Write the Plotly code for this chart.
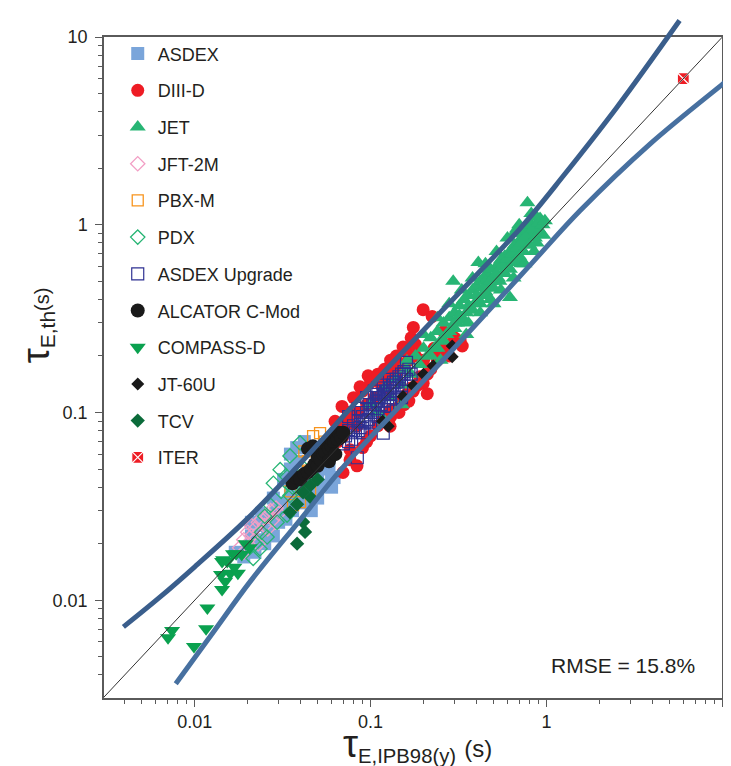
import plotly.graph_objects as go

# ---------------- data ----------------
asdex_x = [0.017, 0.019, 0.02, 0.021, 0.021, 0.022, 0.023, 0.024, 0.024, 0.025, 0.026, 0.027, 0.028, 0.028,
           0.029, 0.03, 0.031, 0.032, 0.032, 0.033, 0.034, 0.035, 0.035, 0.035, 0.036, 0.037, 0.038, 0.038,
           0.038, 0.04, 0.041, 0.042, 0.042, 0.044, 0.045, 0.046, 0.047, 0.048, 0.05, 0.05, 0.052, 0.054,
           0.055, 0.058, 0.06, 0.06, 0.062]
asdex_y = [0.018, 0.017, 0.019, 0.022, 0.026, 0.018, 0.021, 0.025, 0.029, 0.02, 0.023, 0.027, 0.022, 0.035,
           0.03, 0.026, 0.028, 0.033, 0.044, 0.027, 0.031, 0.036, 0.05, 0.06, 0.03, 0.04, 0.034, 0.055,
           0.065, 0.038, 0.045, 0.033, 0.07, 0.042, 0.048, 0.03, 0.039, 0.05, 0.045, 0.035, 0.052, 0.041,
           0.058, 0.05, 0.045, 0.04, 0.045]

diiid_x = [0.199, 0.224, 0.175, 0.153, 0.0968, 0.0871, 0.0688, 0.0628, 0.0837, 0.129, 0.259, 0.323, 0.332,
           0.199, 0.21, 0.0764, 0.0697, 0.0837, 0.0764, 0.118, 0.129, 0.08, 0.09, 0.1, 0.11, 0.12, 0.13,
           0.14, 0.16, 0.17, 0.18, 0.1, 0.11, 0.12, 0.14, 0.15, 0.16, 0.17, 0.19, 0.22, 0.24, 0.28, 0.3,
           0.27, 0.09, 0.095, 0.075, 0.07, 0.065, 0.14, 0.12, 0.2, 0.23, 0.26,
           0.085, 0.095, 0.105, 0.115, 0.125, 0.135, 0.15, 0.165, 0.18, 0.13, 0.145, 0.155, 0.165, 0.175,
           0.185, 0.21, 0.24, 0.075, 0.072]
diiid_y = [0.353, 0.325, 0.284, 0.223, 0.157, 0.137, 0.1077, 0.0897, 0.0845, 0.0845, 0.212, 0.24, 0.226,
           0.143, 0.126, 0.056, 0.0479, 0.052, 0.0633, 0.0955, 0.1026, 0.12, 0.13, 0.145, 0.16, 0.17, 0.19,
           0.2, 0.21, 0.25, 0.23, 0.075, 0.085, 0.09, 0.105, 0.115, 0.125, 0.135, 0.155, 0.17, 0.19, 0.2,
           0.25, 0.23, 0.065, 0.07, 0.09, 0.075, 0.07, 0.16, 0.135, 0.19, 0.22, 0.27,
           0.1, 0.11, 0.12, 0.14, 0.15, 0.17, 0.18, 0.19, 0.2, 0.095, 0.1, 0.11, 0.115, 0.13,
           0.14, 0.16, 0.2, 0.1, 0.085]

jet_x = [0.1, 0.11, 0.12, 0.13, 0.14, 0.15, 0.16, 0.17, 0.18, 0.19, 0.2, 0.21, 0.22, 0.23, 0.24, 0.25,
         0.26, 0.27, 0.28, 0.29, 0.3, 0.31, 0.32, 0.33, 0.34, 0.35, 0.36, 0.37, 0.38, 0.39, 0.4, 0.41,
         0.42, 0.43, 0.44, 0.45, 0.46, 0.47, 0.48, 0.5, 0.52, 0.53, 0.55, 0.56, 0.58, 0.6, 0.62, 0.64,
         0.66, 0.68, 0.7, 0.72, 0.74, 0.76, 0.78, 0.8, 0.82, 0.85, 0.88, 0.9, 0.93, 0.96, 0.78, 0.92,
         0.41, 0.295, 0.62, 0.5, 0.35, 0.25, 0.15, 0.12, 0.3, 0.45, 0.55, 0.161, 0.66, 0.72,
         0.2, 0.22, 0.24, 0.26, 0.28, 0.3, 0.32, 0.34, 0.36, 0.38, 0.4, 0.42, 0.44, 0.46, 0.48, 0.5,
         0.52, 0.54, 0.56, 0.58, 0.6, 0.62, 0.64, 0.66, 0.68, 0.7, 0.72, 0.74, 0.76, 0.8, 0.84, 0.86,
         0.9, 0.95, 0.98, 0.7, 0.6, 0.52, 0.45, 0.38, 0.33, 0.28, 0.24, 0.55, 0.65, 0.75, 0.85, 0.48,
         0.42, 0.36, 0.68, 0.82, 0.88]
jet_y = [0.11, 0.1, 0.135, 0.12, 0.15, 0.14, 0.17, 0.16, 0.2, 0.18, 0.22, 0.2, 0.25, 0.22, 0.27, 0.24,
         0.3, 0.26, 0.32, 0.28, 0.34, 0.3, 0.37, 0.32, 0.4, 0.34, 0.42, 0.36, 0.45, 0.38, 0.47, 0.4,
         0.5, 0.42, 0.52, 0.44, 0.55, 0.46, 0.58, 0.5, 0.6, 0.52, 0.65, 0.55, 0.68, 0.6, 0.72, 0.63,
         0.78, 0.68, 0.82, 0.72, 0.9, 0.78, 0.95, 0.85, 1.0, 0.92, 1.1, 0.95, 1.05, 0.88, 1.31, 1.08,
         0.63, 0.5, 0.41, 0.38, 0.26, 0.19, 0.11, 0.09, 0.28, 0.5, 0.6, 0.188, 0.9, 0.62,
         0.26, 0.2, 0.22, 0.24, 0.27, 0.3, 0.33, 0.31, 0.37, 0.35, 0.42, 0.38, 0.46, 0.42, 0.5, 0.46,
         0.55, 0.5, 0.6, 0.55, 0.66, 0.58, 0.7, 0.64, 0.75, 0.68, 0.8, 0.72, 0.86, 0.78, 0.95, 0.85,
         1.02, 1.0, 1.05, 1.0, 0.85, 0.72, 0.62, 0.52, 0.45, 0.38, 0.32, 0.45, 0.52, 0.62, 0.72, 0.4,
         0.34, 0.3, 0.95, 1.15, 0.8]

jft_x = [0.018, 0.019, 0.02, 0.02, 0.021, 0.022, 0.022, 0.023, 0.024, 0.024, 0.025, 0.026, 0.026, 0.027,
         0.028, 0.029, 0.03, 0.021, 0.019, 0.023]
jft_y = [0.019, 0.021, 0.02, 0.023, 0.022, 0.024, 0.021, 0.026, 0.023, 0.027, 0.025, 0.028, 0.024, 0.03,
         0.027, 0.031, 0.029, 0.025, 0.018, 0.02]

pbx_x = [0.0471, 0.0516, 0.0397, 0.0453, 0.0453, 0.0362, 0.0408, 0.044, 0.05, 0.035, 0.042, 0.055]
pbx_y = [0.0748, 0.0776, 0.0333, 0.0389, 0.044, 0.0321, 0.049, 0.055, 0.06, 0.038, 0.062, 0.07]

pdx_x = [0.0215, 0.0235, 0.0258, 0.0294, 0.0335, 0.0348, 0.0306, 0.0397, 0.0348, 0.027, 0.031, 0.025,
         0.038, 0.042, 0.028, 0.033, 0.036, 0.024, 0.045, 0.022]
pdx_y = [0.0167, 0.0188, 0.0217, 0.026, 0.0284, 0.0361, 0.0496, 0.0689, 0.0587, 0.032, 0.038, 0.028,
         0.045, 0.05, 0.042, 0.046, 0.04, 0.023, 0.048, 0.02]

aug_x = [0.07, 0.072, 0.075, 0.078, 0.08, 0.082, 0.085, 0.087, 0.09, 0.092, 0.095, 0.097, 0.1, 0.1,
         0.103, 0.105, 0.108, 0.11, 0.112, 0.115, 0.118, 0.12, 0.122, 0.125, 0.128, 0.13, 0.133, 0.136,
         0.14, 0.143, 0.146, 0.15, 0.155, 0.16, 0.165, 0.17, 0.095, 0.085, 0.105, 0.12, 0.13, 0.14,
         0.118, 0.084, 0.15, 0.11, 0.16, 0.075, 0.09,
         0.075, 0.08, 0.085, 0.09, 0.095, 0.1, 0.105, 0.11, 0.115, 0.12, 0.125, 0.13, 0.135, 0.14,
         0.145, 0.15, 0.155, 0.088, 0.098, 0.108, 0.118, 0.128, 0.1, 0.11, 0.125, 0.135]
aug_y = [0.068, 0.075, 0.08, 0.072, 0.085, 0.078, 0.09, 0.083, 0.095, 0.088, 0.1, 0.092, 0.105, 0.097,
         0.11, 0.1, 0.115, 0.105, 0.12, 0.11, 0.125, 0.115, 0.13, 0.12, 0.135, 0.125, 0.14, 0.13,
         0.145, 0.135, 0.15, 0.14, 0.16, 0.15, 0.17, 0.16, 0.12, 0.105, 0.13, 0.1, 0.108, 0.118,
         0.0776, 0.0574, 0.12, 0.135, 0.185, 0.095, 0.078,
         0.07, 0.08, 0.08, 0.09, 0.09, 0.1, 0.11, 0.115, 0.12, 0.125, 0.13, 0.135, 0.145, 0.15,
         0.155, 0.16, 0.165, 0.1, 0.11, 0.125, 0.14, 0.15, 0.088, 0.095, 0.108, 0.118]

cmod_x = [0.036, 0.038, 0.04, 0.042, 0.044, 0.044, 0.046, 0.048, 0.05, 0.05, 0.052, 0.054, 0.055,
          0.056, 0.058, 0.06, 0.06, 0.062, 0.064, 0.065, 0.066, 0.068, 0.07, 0.047, 0.058, 0.063]
cmod_y = [0.042, 0.045, 0.044, 0.047, 0.048, 0.064, 0.05, 0.053, 0.052, 0.058, 0.056, 0.06, 0.062,
          0.068, 0.064, 0.066, 0.072, 0.07, 0.076, 0.072, 0.078, 0.074, 0.078, 0.066, 0.055, 0.06]

compass_x = [0.00705, 0.00743, 0.0099, 0.0116, 0.0118, 0.0143, 0.0149, 0.0141, 0.0159, 0.0176, 0.0143,
             0.0153, 0.0165, 0.0172, 0.0145, 0.0185, 0.0168, 0.0195, 0.0205]
compass_y = [0.0063, 0.0069, 0.00566, 0.00705, 0.0091, 0.0114, 0.0126, 0.0137, 0.0139, 0.0139, 0.0161,
             0.0161, 0.0177, 0.0177, 0.0164, 0.0175, 0.015, 0.02, 0.019]

jt60_x = [0.117, 0.126, 0.153, 0.175, 0.227, 0.291, 0.291, 0.2]
jt60_y = [0.0897, 0.0845, 0.1216, 0.139, 0.177, 0.226, 0.198, 0.16]

tcv_x = [0.0382, 0.0424, 0.0413, 0.0348, 0.0413, 0.0453, 0.0382, 0.05, 0.046]
tcv_y = [0.02, 0.0231, 0.0261, 0.0294, 0.0375, 0.0408, 0.0324, 0.044, 0.035]

iter_x = [6.0]
iter_y = [6.0]

# identity line and the two bounding curves
diag = [0.003, 10.0]
upper_x = [0.00393, 0.00631, 0.01, 0.01995, 0.0398, 0.1, 0.272, 0.708, 1.259, 2.512, 5.715]
upper_y = [0.00721, 0.01035, 0.01507, 0.0272, 0.0535, 0.138, 0.3715, 0.955, 1.841, 4.217, 12.25]
lower_x = [0.0078, 0.01259, 0.02065, 0.0398, 0.0671, 0.1472, 0.3228, 0.8414, 1.556, 3.89, 10.0, 11.22]
lower_y = [0.00359, 0.00665, 0.01256, 0.0268, 0.049, 0.1086, 0.2382, 0.6368, 1.191, 2.7, 5.6, 6.11]

tick_vals = [0.01, 0.1, 1, 10]
tick_text = ["0.01", "0.1", "1", "10"]
minor_vals = [k * 10.0 ** e for e in range(-3, 1) for k in range(2, 10)]

FONT = "Liberation Sans, Arial, sans-serif"
TXT = "#231f20"

series = [
    ("ASDEX", asdex_x, asdex_y, "square", "#7aa5da", 13, None),
    ("DIII-D", diiid_x, diiid_y, "circle", "#ee1c24", 13, None),
    ("JET", jet_x, jet_y, "triangle-up", "#27b574", 14, None),
    ("JFT-2M", jft_x, jft_y, "diamond-open", "#f29fc5", 11, 1.3),
    ("PBX-M", pbx_x, pbx_y, "square-open", "#f7941d", 11, 1.3),
    ("PDX", pdx_x, pdx_y, "diamond-open", "#27b574", 11, 1.3),
    ("ASDEX Upgrade", aug_x, aug_y, "square-open", "#2e3192", 12, 1.2),
    ("ALCATOR C-Mod", cmod_x, cmod_y, "circle", "#1a1a1a", 14, None),
    ("COMPASS-D", compass_x, compass_y, "triangle-down", "#0aa14f", 14, None),
    ("JT-60U", jt60_x, jt60_y, "diamond", "#1a1a1a", 10, None),
    ("TCV", tcv_x, tcv_y, "diamond", "#0b6b3a", 11, None),
]

fig = go.Figure()
for i, (name, xs, ys, sym, col, size, lw) in enumerate(series):
    marker = dict(symbol=sym, color=col, size=size)
    if lw is not None:
        marker["line"] = dict(color=col, width=lw)
    else:
        marker["line"] = dict(width=0)
    fig.add_trace(go.Scatter(x=xs, y=ys, mode="markers", name=name, marker=marker,
                             legendgroup="g%d" % i, xaxis="x", yaxis="y"))

fig.add_trace(go.Scatter(x=iter_x, y=iter_y, mode="markers", name="ITER", legendgroup="g11",
                         marker=dict(symbol="square-x", color="#ee1c24", size=12,
                                     line=dict(color="white", width=1.2))))

fig.add_trace(go.Scatter(x=diag, y=diag, mode="lines", showlegend=False,
                         line=dict(color="#333333", width=1), hoverinfo="skip"))

fig.add_trace(go.Scatter(x=upper_x, y=upper_y, mode="lines", showlegend=False, xaxis="x2", yaxis="y2",
                         line=dict(color="#3a5e8c", width=5, shape="spline"), hoverinfo="skip"))
fig.add_trace(go.Scatter(x=lower_x, y=lower_y, mode="lines", showlegend=False, xaxis="x2", yaxis="y2",
                         line=dict(color="#4770a0", width=5, shape="spline"), hoverinfo="skip"))

axis_common = dict(
    type="log", showgrid=False, zeroline=False, showline=True, mirror=True,
    linecolor="#5a5a5a", linewidth=1.5, ticks="outside", ticklen=7, tickwidth=1.3, tickcolor="#5a5a5a",
    tickmode="array", tickvals=tick_vals, ticktext=tick_text,
    tickfont=dict(family=FONT, size=18, color=TXT),
    minor=dict(tickmode="array", tickvals=minor_vals, ticks="outside", ticklen=4,
               tickwidth=1, tickcolor="#5a5a5a", showgrid=False),
)

# the page body has an 8 px margin; the figure is sized to fill the rest of the window
fig.update_layout(
    width=723, height=758,
    margin=dict(l=96, r=0, t=2, b=68),
    paper_bgcolor="white", plot_bgcolor="rgba(0,0,0,0)",
    font=dict(family=FONT, color=TXT),
    xaxis=dict(axis_common, domain=[0, 0.98612], range=[-2.516, 1.0], anchor="y"),
    yaxis=dict(axis_common, domain=[0, 0.97195], range=[-2.521, 1.0], anchor="x", ticklabelstandoff=4),
    xaxis2=dict(type="log", domain=[0, 1], range=[-2.516, 1.0495], visible=False, anchor="y2"),
    yaxis2=dict(type="log", domain=[0, 1], range=[-2.521, 1.1016], visible=False, anchor="x2"),
    showlegend=True,
    legend=dict(x=0.0219, y=0.9744, xanchor="left", yanchor="top", bgcolor="rgba(0,0,0,0)",
                font=dict(family=FONT, size=18, color=TXT), tracegroupgap=10.3,
                itemsizing="trace"),
    annotations=[
        dict(text="RMSE = 15.8%", xref="paper", yref="paper", x=0.9458, y=0.048,
             xanchor="right", yanchor="middle", showarrow=False,
             font=dict(family=FONT, size=21, color=TXT)),
        dict(text="<span style='font-size:38px'>τ</span><sub>E,IPB98(y)</sub> <span style='font-size:24px'>(s)</span>",
             xref="paper", yref="paper", x=0.50, y=-0.0696, xanchor="center", yanchor="middle",
             showarrow=False, font=dict(family=FONT, size=29, color=TXT)),
        dict(text="<span style='font-size:38px'>τ</span><sub>E,th</sub><span style='font-size:20px'>(s)</span>",
             xref="paper", yref="paper", x=-0.107, y=0.548, xanchor="center", yanchor="middle",
             textangle=-90, showarrow=False, font=dict(family=FONT, size=30, color=TXT)),
    ],
)

fig.write_html("out.html")
